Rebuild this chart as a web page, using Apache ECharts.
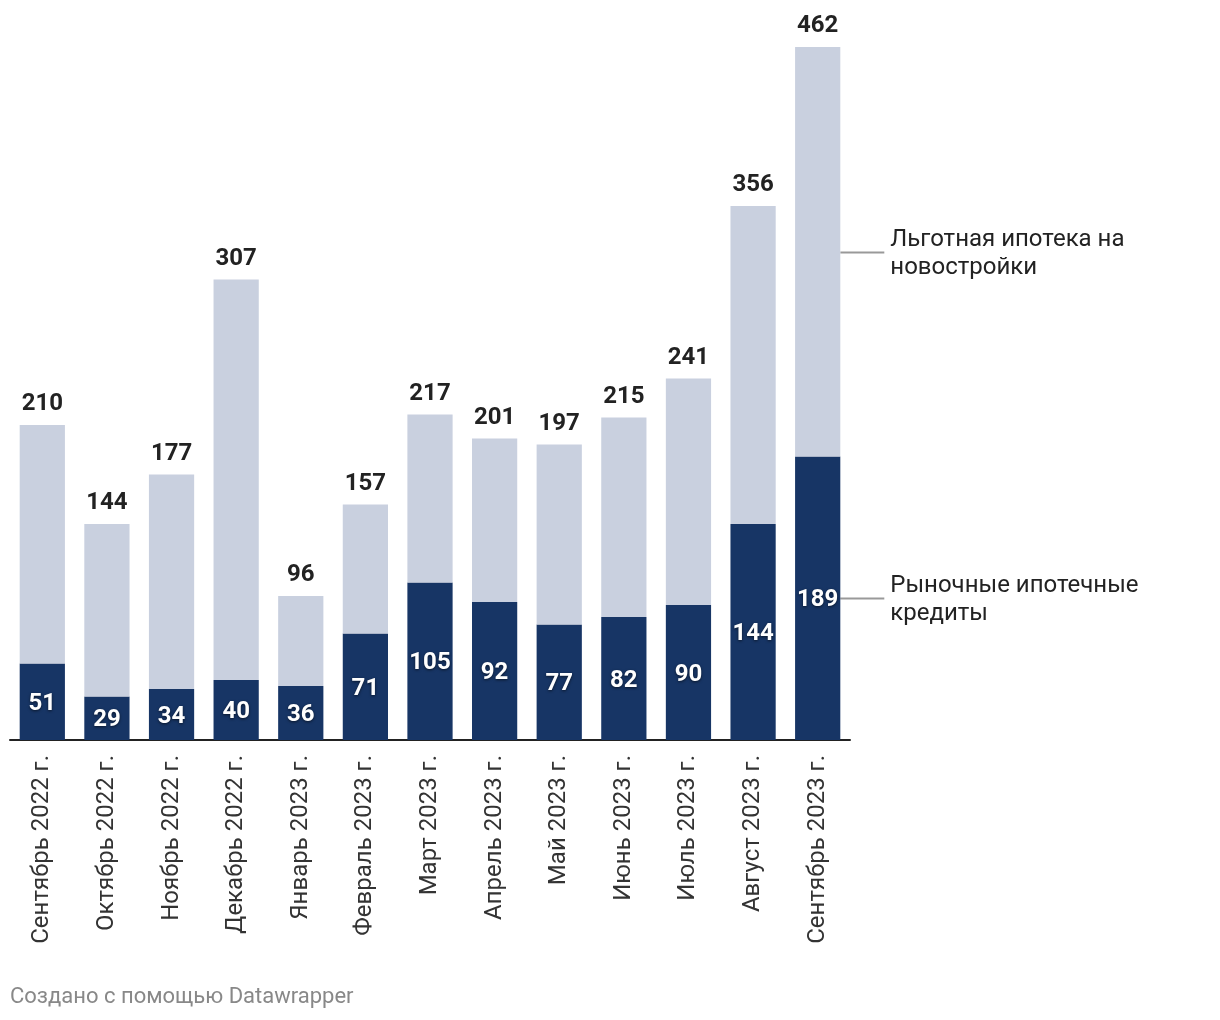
<!DOCTYPE html>
<html>
<head>
<meta charset="utf-8">
<script src="https://cdn.jsdelivr.net/npm/echarts@6/dist/echarts.min.js"></script>
<style>
html,body{margin:0;padding:0;background:#fff;}
#c{width:1220px;height:1020px;}
</style>
</head>
<body>
<div id="c"></div>
<script>
var categories = ["Сентябрь 2022 г.","Октябрь 2022 г.","Ноябрь 2022 г.","Декабрь 2022 г.","Январь 2023 г.","Февраль 2023 г.","Март 2023 г.","Апрель 2023 г.","Май 2023 г.","Июнь 2023 г.","Июль 2023 г.","Август 2023 г.","Сентябрь 2023 г."];
var marketLoans = [51, 29, 34, 40, 36, 71, 105, 92, 77, 82, 90, 144, 189];
var preferentialLoans = [159, 115, 143, 267, 60, 86, 112, 109, 120, 133, 151, 212, 273];
var totals = [210, 144, 177, 307, 96, 157, 217, 201, 197, 215, 241, 356, 462];
var seriesNames = ["Рыночные ипотечные кредиты", "Льготная ипотека на новостройки"];
var seriesLabelLines = [["Рыночные ипотечные", "кредиты"], ["Льготная ипотека на", "новостройки"]];
var footerText = "Создано с помощью Datawrapper";

var chart = echarts.init(document.getElementById('c'), null, {renderer: 'canvas'});
var FONT = 'Roboto';
var option = {
  animation: false,
  backgroundColor: '#ffffff',
  grid: {left: 10, right: 370, top: 47, bottom: 280, containLabel: false},
  xAxis: {
    type: 'category',
    data: categories,
    axisLine: {show: true, lineStyle: {color: '#222', width: 2}},
    axisTick: {show: false},
    axisLabel: {rotate: 90, margin: 15, fontFamily: FONT, fontSize: 24, color: '#333', interval: 0}
  },
  yAxis: {type: 'value', min: 0, max: 462, show: false, splitLine: {show: false}},
  series: [
    {
      name: seriesNames[0], type: 'bar', stack: 'a', barWidth: '70%', data: marketLoans,
      itemStyle: {color: '#173565'},
      label: {show: true, position: 'inside', offset: [0, 2], fontFamily: FONT, fontWeight: 'bold', fontSize: 24, color: '#fff',
        textShadowColor: 'rgba(0,0,0,0.6)', textShadowBlur: 3, textShadowOffsetY: 1}
    },
    {
      name: seriesNames[1], type: 'bar', stack: 'a', barWidth: '70%', data: preferentialLoans,
      itemStyle: {color: '#c9d0df'},
      label: {show: true, position: 'top', distance: 9, fontFamily: FONT, fontWeight: 'bold', fontSize: 24, color: '#222',
        formatter: function (p) { return totals[p.dataIndex]; }}
    }
  ]
};
chart.setOption(option);

// Direct labels next to the last bar, placed via the chart's scales
var last = categories.length - 1;
var cx = chart.convertToPixel({xAxisIndex: 0}, last);
var bandW = chart.getModel().getComponent('xAxis', 0).axis.getBandWidth();
var right = cx + bandW * 0.35;
var darkMid = chart.convertToPixel({yAxisIndex: 0}, marketLoans[last] / 2);
var lightMid = chart.convertToPixel({yAxisIndex: 0}, marketLoans[last] + preferentialLoans[last] / 2);
var graphics = [];
[[darkMid, 0], [lightMid, 1]].forEach(function (d) {
  var y = Math.round(d[0]) + 0.5;
  graphics.push({type: 'line', shape: {x1: right, y1: y, x2: right + 44, y2: y}, style: {stroke: '#999', lineWidth: 2}});
  graphics.push({type: 'text', left: right + 50, top: y - 27, style: {text: seriesLabelLines[d[1]].join('\n'), font: '24px Roboto', fill: '#222', lineHeight: 28}});
});
graphics.push({type: 'text', left: 10, top: 986, style: {text: footerText, font: '22px Roboto', fill: '#888'}});
chart.setOption({graphic: graphics});
</script>
</body>
</html>
